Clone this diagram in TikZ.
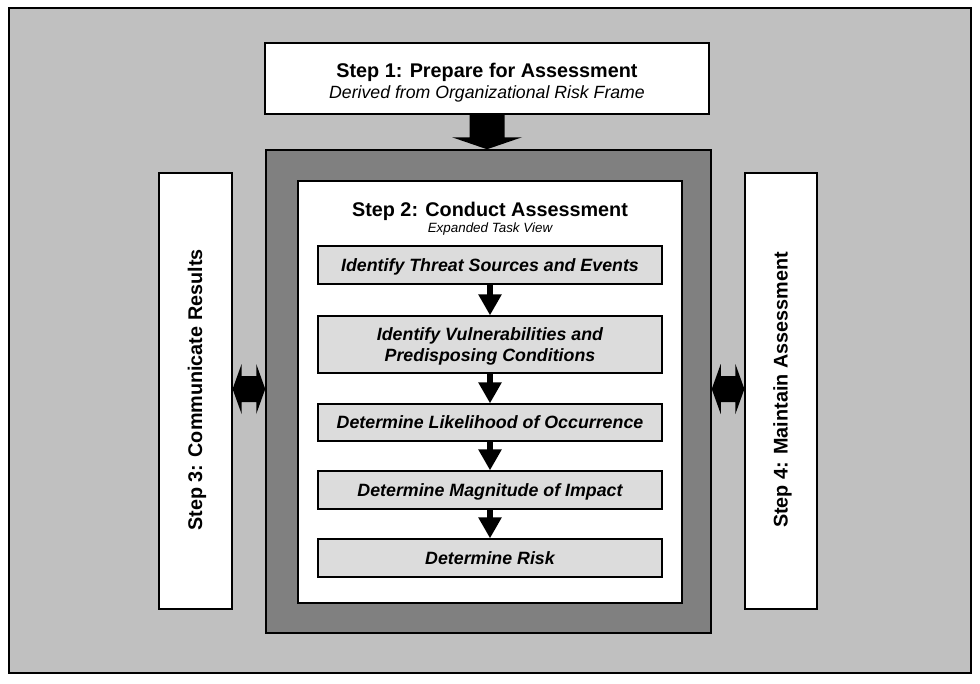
\documentclass[tikz,border=0pt]{standalone}
\usepackage{fontspec}
\setmainfont{Liberation Sans}
\usetikzlibrary{arrows.meta,calc}
\definecolor{bggray}{HTML}{C0C0C0}
\definecolor{darkgray}{HTML}{808080}
\definecolor{taskgray}{HTML}{DCDCDC}
\begin{document}
\begin{tikzpicture}[x=1pt,y=-1pt,
  box/.style={draw=black,line width=1.2pt,rectangle,inner sep=0pt,align=center},
  taskbox/.style={box,fill=taskgray,minimum width=344pt,text depth=0pt,font=\fontsize{17.8}{21.5}\selectfont\bfseries\itshape},
  titlefont/.style={font=\fontsize{19.8}{23}\selectfont\bfseries},
  flowarrow/.style={line width=6pt,-{Triangle[length=21pt,width=22pt]}},
  blockarrow/.style={fill=black,draw=none}
]
\useasboundingbox (0,0) rectangle (980,683);
\node[box,fill=bggray,line width=2.5pt,minimum width=962pt,minimum height=665pt] (outer) at (490,340.5) {};
\node[box,fill=white,minimum width=444pt,minimum height=71pt] (s1) at (487,78.5) {};
\node[titlefont] (s1t) at (487,72) {Step 1: Prepare for Assessment};
\node[font=\fontsize{17.7}{21}\selectfont\itshape] (s1s) at (487,93.5) {Derived from Organizational Risk Frame};
\node[box,fill=darkgray,line width=1.5pt,minimum width=445pt,minimum height=483pt] (dark) at (488.5,391.5) {};
\node[box,fill=white,minimum width=384pt,minimum height=422pt] (inner) at (490,392) {};
\node[titlefont] (s2t) at (490,211) {Step 2: Conduct Assessment};
\node[font=\fontsize{13.4}{15}\selectfont\itshape] (s2s) at (490,229.5) {Expanded Task View};
\node[taskbox,minimum height=38pt] (t1) at (490,265) {Identify Threat Sources and Events};
\node[taskbox,minimum height=57pt] (t2) at (490,344.5) {Identify Vulnerabilities and\\Predisposing Conditions};
\node[taskbox,minimum height=37pt] (t3) at (490,422.5) {Determine Likelihood of Occurrence};
\node[taskbox,minimum height=38pt] (t4) at (490,490) {Determine Magnitude of Impact};
\node[taskbox,minimum height=38pt] (t5) at (490,558) {Determine Risk};
\draw[flowarrow] (t1) -- (t2);
\draw[flowarrow] (t2) -- (t3);
\draw[flowarrow] (t3) -- (t4);
\draw[flowarrow] (t4) -- (t5);
\node[box,fill=white,minimum width=73pt,minimum height=436pt] (s3) at (195.5,391) {};
\node[titlefont,rotate=90] (s3t) at ($(s3)+(1.5,-1)$) {Step 3: Communicate Results};
\node[box,fill=white,minimum width=72pt,minimum height=436pt] (s4) at (781,391) {};
\node[titlefont,rotate=90] (s4t) at ($(s4)+(1.5,-1)$) {Step 4: Maintain Assessment};
% top block arrow
\coordinate (ta) at (s1.south);
\coordinate (tb) at (s1.south |- dark.north);
\fill[blockarrow] ($(ta)+(-17.5,0)$) -- ($(ta)+(17.5,0)$) -- ($(tb)+(17.5,-12)$) -- ($(tb)+(35,-12)$) -- (tb) -- ($(tb)+(-35,-12)$) -- ($(tb)+(-17.5,-12)$) -- cycle;
% left double arrow
\coordinate (la) at ($(s3.east)+(0,-2)$);
\coordinate (lb) at (dark.west |- la);
\fill[blockarrow] (la) -- ($(la)+(9,-25)$) -- ($(la)+(9,-13)$) -- ($(lb)+(-9,-13)$) -- ($(lb)+(-9,-25)$) -- (lb) -- ($(lb)+(-9,25)$) -- ($(lb)+(-9,13)$) -- ($(la)+(9,13)$) -- ($(la)+(9,25)$) -- cycle;
% right double arrow
\coordinate (ra) at ($(dark.east)+(0,-2.5)$);
\coordinate (rb) at (s4.west |- ra);
\fill[blockarrow] (ra) -- ($(ra)+(9,-25)$) -- ($(ra)+(9,-13)$) -- ($(rb)+(-9,-13)$) -- ($(rb)+(-9,-25)$) -- (rb) -- ($(rb)+(-9,25)$) -- ($(rb)+(-9,13)$) -- ($(ra)+(9,13)$) -- ($(ra)+(9,25)$) -- cycle;
\end{tikzpicture}
\end{document}
